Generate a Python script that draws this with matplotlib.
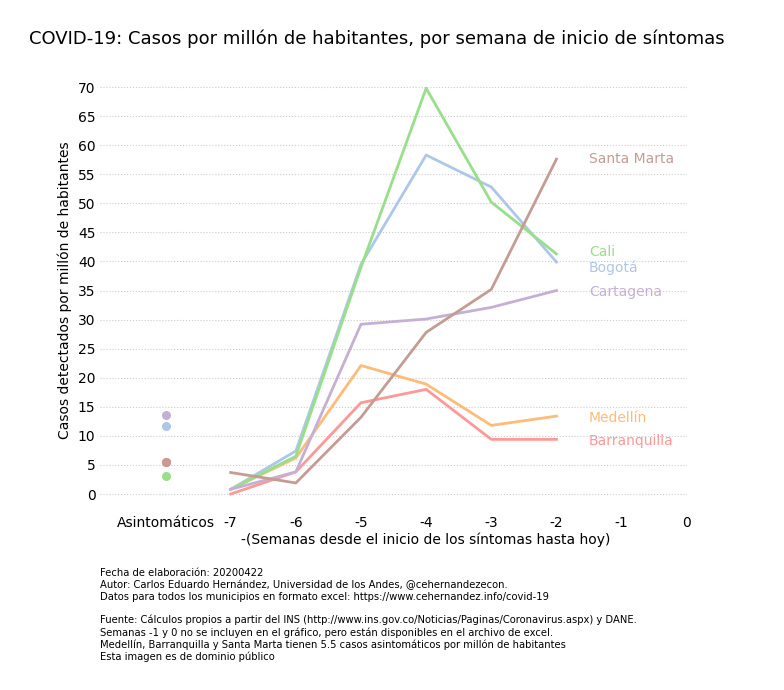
import matplotlib
matplotlib.use("Agg")
import matplotlib.pyplot as plt
import numpy as np

semanas = [-7, -6, -5, -4, -3, -2]
ciudades = ["Bogotá", "Medellín", "Cali", "Barranquilla", "Cartagena", "Santa Marta"]
bogota = [0.8, 7.4, 39.5, 58.3, 52.8, 39.9]
medellin = [0.8, 6.2, 22.1, 18.9, 11.8, 13.4]
cali = [0.8, 6.5, 39.0, 69.8, 50.2, 41.3]
barranquilla = [0.0, 3.8, 15.7, 18.0, 9.4, 9.4]
cartagena = [0.8, 3.8, 29.2, 30.1, 32.1, 35.0]
santa_marta = [3.7, 1.9, 13.2, 27.8, 35.2, 57.6]
asintomaticos = [11.7, 5.5, 3.1, 5.5, 13.6, 5.5]
label_y = [38.9, 13.1, 41.6, 9.1, 34.7, 57.6]

series = [bogota, medellin, cali, barranquilla, cartagena, santa_marta]
colores = ["#aec7e8", "#ffbb78", "#98df8a", "#ff9896", "#c5b0d5", "#c49c94"]

fig = plt.figure(figsize=(7.84, 6.9), dpi=100)
ax = fig.add_axes([0.128, 0.2672, 0.748, 0.6235])

for nombre, vals, c, asin, ly in zip(ciudades, series, colores, asintomaticos, label_y):
    ax.plot(semanas, vals, color=c, lw=2)
    ax.scatter([-8], [asin], color=c, s=30, zorder=3)
    ax.text(-1.5, ly, nombre, color=c, fontsize=10, va="center")

ax.set_xlim(-9, 0)
ax.set_ylim(-2, 72)
ax.set_yticks(np.arange(0, 71, 5))
ax.set_xticks(range(-8, 1))
ax.set_xticklabels(["Asintomáticos"] + [str(i) for i in range(-7, 1)])
ax.tick_params(length=0, labelsize=10)
ax.tick_params(axis="x", pad=7.5)
ax.grid(axis="y", color="#cccccc", ls=":", lw=0.8)
for s in ax.spines.values():
    s.set_visible(False)
ax.set_ylabel("Casos detectados por millón de habitantes", fontsize=10)
ax.set_xlabel("-(Semanas desde el inicio de los síntomas hasta hoy)", fontsize=10)
ax.xaxis.set_label_coords(0.555, -0.062)

fig.suptitle("COVID-19: Casos por millón de habitantes, por semana de inicio de síntomas",
             fontsize=13, x=0.481, y=0.957)

nota = ("Fecha de elaboración: 20200422\n"
        "Autor: Carlos Eduardo Hernández, Universidad de los Andes, @cehernandezecon.\n"
        "Datos para todos los municipios en formato excel: https://www.cehernandez.info/covid-19\n"
        "\n"
        "Fuente: Cálculos propios a partir del INS (http://www.ins.gov.co/Noticias/Paginas/Coronavirus.aspx) y DANE.\n"
        "Semanas -1 y 0 no se incluyen en el gráfico, pero están disponibles en el archivo de excel.\n"
        "Medellín, Barranquilla y Santa Marta tienen 5.5 casos asintomáticos por millón de habitantes\n"
        "Esta imagen es de dominio público")
fig.text(0.128, 0.177, nota, fontsize=7.2, va="top", linespacing=1.2)

fig.savefig("out.png", dpi=100)
